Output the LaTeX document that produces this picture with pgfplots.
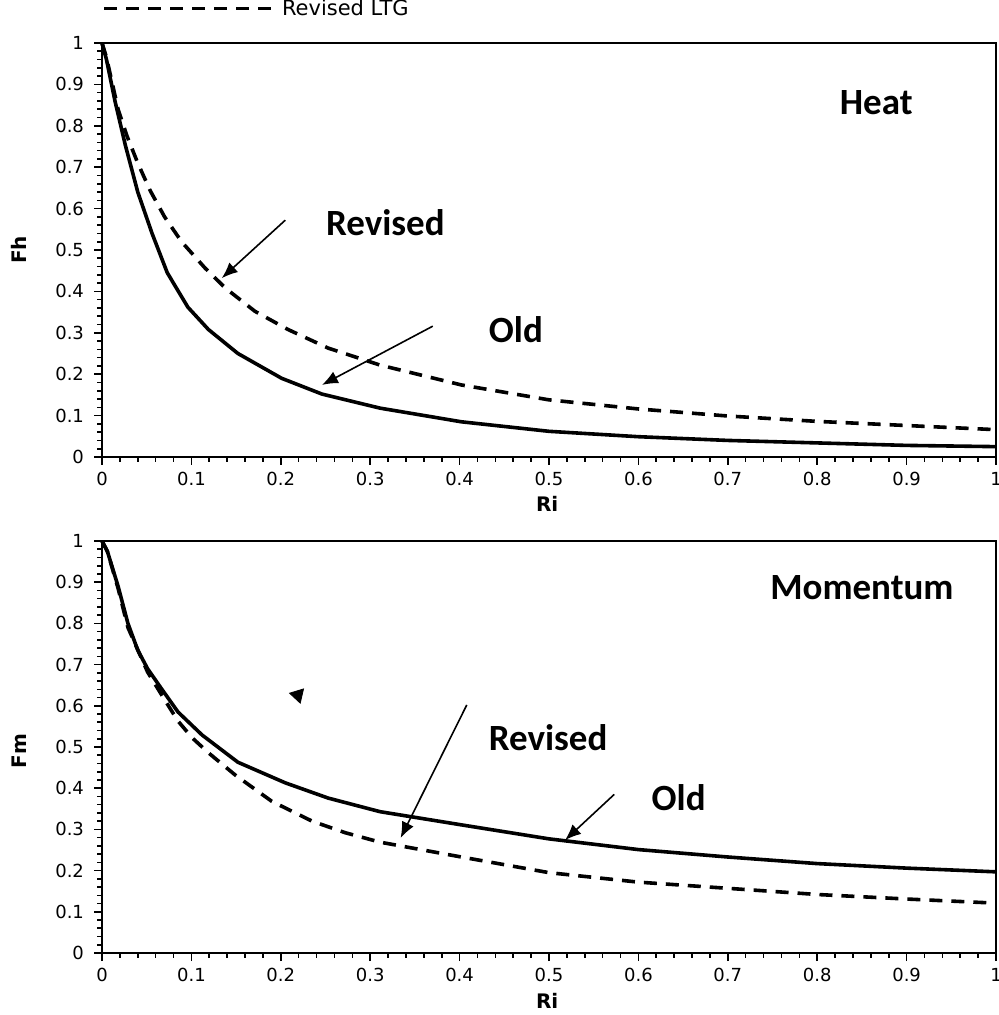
\documentclass[border=0pt]{standalone}
\usepackage{fontspec}
\setmainfont{DejaVu Sans}
\newfontfamily\annofont{Carlito}
\usepackage{pgfplots}
\pgfplotsset{compat=1.18}
\usetikzlibrary{arrows.meta}

% Stability functions for heat (Fh) and momentum (Fm) versus Richardson number
\pgfplotstableread{
Ri     Fh
0      1.000
0.005  0.960
0.0145 0.860
0.026  0.754
0.040  0.640
0.056  0.540
0.073  0.445
0.096  0.362
0.119  0.308
0.152  0.250
0.201  0.190
0.246  0.152
0.311  0.118
0.402  0.085
0.500  0.062
0.600  0.049
0.700  0.040
0.800  0.034
0.900  0.028
1.000  0.025
}\heatold
\pgfplotstableread{
Ri     Fh
0      1.000
0.005  0.965
0.018  0.840
0.028  0.775
0.040  0.710
0.054  0.643
0.070  0.580
0.089  0.520
0.115  0.457
0.138  0.408
0.171  0.352
0.208  0.308
0.253  0.263
0.311  0.222
0.402  0.174
0.500  0.138
0.600  0.116
0.700  0.099
0.800  0.086
0.900  0.076
1.000  0.066
}\heatrev
\pgfplotstableread{
Ri     Fm
0      1.000
0.006  0.975
0.018  0.890
0.029  0.800
0.040  0.735
0.051  0.690
0.067  0.640
0.085  0.585
0.112  0.529
0.152  0.463
0.205  0.413
0.253  0.376
0.311  0.343
0.402  0.311
0.500  0.277
0.600  0.251
0.700  0.233
0.800  0.217
0.900  0.206
1.000  0.197
}\momold
\pgfplotstableread{
Ri     Fm
0      1.000
0.006  0.975
0.018  0.885
0.029  0.790
0.051  0.682
0.070  0.615
0.085  0.563
0.101  0.522
0.119  0.486
0.149  0.432
0.190  0.368
0.235  0.320
0.272  0.292
0.311  0.269
0.402  0.233
0.500  0.195
0.600  0.172
0.700  0.157
0.800  0.142
0.900  0.131
1.000  0.121
}\momrev

\pgfplotsset{
  ltgaxis/.style={
    scale only axis, width=447pt, height=207pt,
    xmin=0, xmax=1, ymin=0, ymax=1,
    xtick={0,0.1,0.2,0.3,0.4,0.5,0.6,0.7,0.8,0.9,1},
    ytick={0,0.1,0.2,0.3,0.4,0.5,0.6,0.7,0.8,0.9,1},
    minor x tick num=4, minor y tick num=4,
    tick pos=left, tick align=outside,
    major tick length=4pt, minor tick length=2.3pt,
    axis line style={line width=1pt},
    every tick/.append style={line width=0.8pt, black},
    ticklabel style={font=\fontsize{9}{10}\selectfont},
    yticklabel style={xshift=-1.5pt},
    /pgf/number format/assume math mode=true,
    label style={font=\fontsize{10}{12}\selectfont\bfseries},
    xlabel=Ri,
    clip=false,
  },
  oldline/.style={black, line width=1.8pt},
  revline/.style={black, line width=1.8pt, dash pattern=on 6.5pt off 4.5pt},
}
\tikzset{
  anno/.style={font=\annofont\fontsize{18.5}{20}\selectfont\bfseries, anchor=center},
  pointer/.style={-{Latex[length=8pt,width=6.5pt]}, line width=0.8pt, black},
}

\begin{document}
\begin{tikzpicture}
% Heat
\begin{axis}[ltgaxis, at={(51pt,279pt)}, anchor=south west,
  ylabel=Fh,
  xlabel style={at={(axis description cs:0.498,-0.114)}, anchor=center},
  ylabel style={at={(axis description cs:-0.093,0.5)}, anchor=center},
  legend style={at={(axis description cs:0,1.083)}, anchor=west,
    draw=none, fill=none, inner sep=0pt,
    font=\fontsize{10.5}{12}\selectfont},
  legend cell align=left,
  legend image code/.code={\draw[#1] (0pt,0pt) -- (60pt,0pt);
    \path (0pt,0pt) -- (86pt,0pt);},
]
\addplot[oldline, forget plot] table[x=Ri, y=Fh] {\heatold};
\addplot[revline] table[x=Ri, y=Fh] {\heatrev};
\addlegendentry{Revised LTG}
\node[anno] at (axis cs:0.866,0.857) {Heat};
\node[anno] at (axis cs:0.317,0.565) {Revised};
\node[anno] at (axis cs:0.463,0.308) {Old};
\draw[pointer] (axis cs:0.205,0.572) -- (axis cs:0.134,0.432);
\draw[pointer] (axis cs:0.370,0.316) -- (axis cs:0.246,0.174);
\end{axis}
% Momentum
\begin{axis}[ltgaxis, at={(51pt,31pt)}, anchor=south west, height=206pt,
  ylabel=Fm,
  xlabel style={at={(axis description cs:0.498,-0.116)}, anchor=center},
  ylabel style={at={(axis description cs:-0.093,0.49)}, anchor=center},
]
\addplot[oldline] table[x=Ri, y=Fm] {\momold};
\addplot[revline] table[x=Ri, y=Fm] {\momrev};
\addplot[only marks, mark=triangle*, mark size=4.2pt,
  mark options={rotate=77, fill=black, draw=black}] coordinates {(0.219,0.626)};
\node[anno] at (axis cs:0.850,0.887) {Momentum};
\node[anno] at (axis cs:0.499,0.522) {Revised};
\node[anno] at (axis cs:0.645,0.376) {Old};
\draw[pointer] (axis cs:0.408,0.602) -- (axis cs:0.334,0.279);
\draw[pointer] (axis cs:0.573,0.385) -- (axis cs:0.518,0.274);
\end{axis}
\pgfresetboundingbox
\useasboundingbox (0pt,0pt) rectangle (499pt,507.5pt);
\end{tikzpicture}
\end{document}
